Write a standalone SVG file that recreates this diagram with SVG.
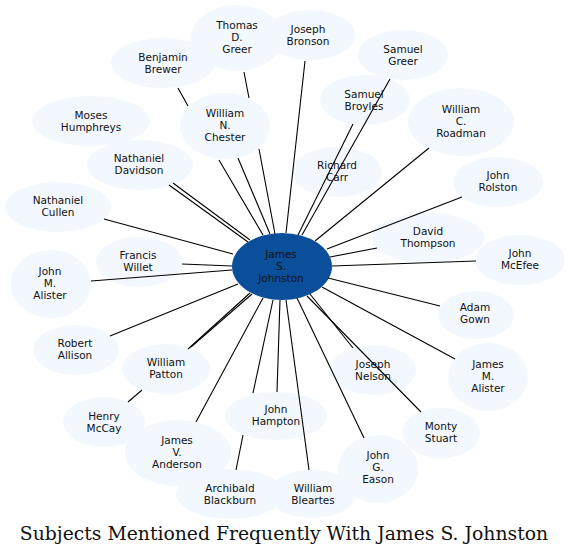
<svg xmlns="http://www.w3.org/2000/svg" width="570" height="556" viewBox="0 0 570 556">
<style>
.n ellipse{fill:#f3f8fe;stroke:none}
.c ellipse{fill:#0b4f9a;stroke:none}
text{font-family:"DejaVu Sans",Verdana,sans-serif;font-size:10.5px;fill:#111;text-anchor:middle}
.e path{stroke:#000;stroke-width:1.1;fill:none}
.title{font-family:"DejaVu Serif","Liberation Serif",serif;font-size:18.8px;fill:#111}
</style>
<rect width="570" height="556" fill="#fff"/>
<g id="nodes">
<g id="n_greer_td" class="n"><ellipse cx="237" cy="38" rx="46" ry="33"/><text x="237" y="28.5">Thomas</text><text x="237" y="40.5">D.</text><text x="237" y="52.5">Greer</text></g>
<g id="n_bronson" class="n"><ellipse cx="310" cy="35" rx="45" ry="25"/><text x="308" y="32.5">Joseph</text><text x="308" y="44.5">Bronson</text></g>
<g id="n_brewer" class="n"><ellipse cx="163" cy="63" rx="52" ry="25"/><text x="163" y="60.5">Benjamin</text><text x="163" y="72.5">Brewer</text></g>
<g id="n_sgreer" class="n"><ellipse cx="403" cy="55" rx="45" ry="25"/><text x="403" y="52.5">Samuel</text><text x="403" y="64.5">Greer</text></g>
<g id="n_broyles" class="n"><ellipse cx="365" cy="100" rx="45" ry="25"/><text x="364" y="97.5">Samuel</text><text x="364" y="109.5">Broyles</text></g>
<g id="n_humphreys" class="n"><ellipse cx="91" cy="121" rx="59" ry="25"/><text x="91" y="118.5">Moses</text><text x="91" y="130.5">Humphreys</text></g>
<g id="n_chester" class="n"><ellipse cx="225" cy="126" rx="45" ry="33"/><text x="225" y="116.5">William</text><text x="225" y="128.5">N.</text><text x="225" y="140.5">Chester</text></g>
<g id="n_roadman" class="n"><ellipse cx="461" cy="122" rx="53" ry="34"/><text x="461" y="112.5">William</text><text x="461" y="124.5">C.</text><text x="461" y="136.5">Roadman</text></g>
<g id="n_davidson" class="n"><ellipse cx="140" cy="165" rx="53" ry="25"/><text x="139" y="161.5">Nathaniel</text><text x="139" y="173.5">Davidson</text></g>
<g id="n_carr" class="n"><ellipse cx="337" cy="172" rx="45" ry="25"/><text x="337" y="168.5">Richard</text><text x="337" y="180.5">Carr</text></g>
<g id="n_rolston" class="n"><ellipse cx="498" cy="182" rx="45" ry="25"/><text x="498" y="178.5">John</text><text x="498" y="190.5">Rolston</text></g>
<g id="n_cullen" class="n"><ellipse cx="58" cy="207" rx="53" ry="25"/><text x="58" y="203.5">Nathaniel</text><text x="58" y="215.5">Cullen</text></g>
<g id="n_thompson" class="n"><ellipse cx="428" cy="238" rx="56" ry="25"/><text x="428" y="234.5">David</text><text x="428" y="246.5">Thompson</text></g>
<g id="n_willet" class="n"><ellipse cx="139" cy="262" rx="43" ry="25"/><text x="138" y="258.5">Francis</text><text x="138" y="270.5">Willet</text></g>
<g id="n_mcefee" class="n"><ellipse cx="520" cy="260" rx="45" ry="25"/><text x="520" y="256.5">John</text><text x="520" y="268.5">McEfee</text></g>
<g id="n_jm_alister" class="n"><ellipse cx="51" cy="284" rx="40" ry="34"/><text x="50" y="274.5">John</text><text x="50" y="286.5">M.</text><text x="50" y="298.5">Alister</text></g>
<g id="n_gown" class="n"><ellipse cx="476" cy="315" rx="38" ry="24"/><text x="475" y="310.5">Adam</text><text x="475" y="322.5">Gown</text></g>
<g id="n_allison" class="n"><ellipse cx="76" cy="350" rx="43" ry="25"/><text x="75" y="346.5">Robert</text><text x="75" y="358.5">Allison</text></g>
<g id="n_patton" class="n"><ellipse cx="166" cy="369" rx="44" ry="25"/><text x="166" y="365.5">William</text><text x="166" y="377.5">Patton</text></g>
<g id="n_nelson" class="n"><ellipse cx="373" cy="370" rx="43" ry="25"/><text x="373" y="367.5">Joseph</text><text x="373" y="379.5">Nelson</text></g>
<g id="n_jam_alister" class="n"><ellipse cx="488" cy="377" rx="40" ry="34"/><text x="488" y="367.5">James</text><text x="488" y="379.5">M.</text><text x="488" y="391.5">Alister</text></g>
<g id="n_mccay" class="n"><ellipse cx="104" cy="422" rx="41" ry="25"/><text x="104" y="419.5">Henry</text><text x="104" y="431.5">McCay</text></g>
<g id="n_hampton" class="n"><ellipse cx="276" cy="416" rx="51" ry="24"/><text x="276" y="412.5">John</text><text x="276" y="424.5">Hampton</text></g>
<g id="n_stuart" class="n"><ellipse cx="441" cy="433" rx="39" ry="25"/><text x="441" y="429.5">Monty</text><text x="441" y="441.5">Stuart</text></g>
<g id="n_anderson" class="n"><ellipse cx="178" cy="453" rx="53" ry="33"/><text x="177" y="443.5">James</text><text x="177" y="455.5">V.</text><text x="177" y="467.5">Anderson</text></g>
<g id="n_eason" class="n"><ellipse cx="378" cy="469" rx="40" ry="34"/><text x="378" y="458.5">John</text><text x="378" y="470.5">G.</text><text x="378" y="482.5">Eason</text></g>
<g id="n_blackburn" class="n"><ellipse cx="230" cy="494" rx="54" ry="25"/><text x="230" y="491.5">Archibald</text><text x="230" y="503.5">Blackburn</text></g>
<g id="n_bleartes" class="n"><ellipse cx="312" cy="494" rx="44" ry="24"/><text x="313" y="491.5">William</text><text x="313" y="503.5">Bleartes</text></g>
<g id="n_johnston" class="c"><ellipse cx="282" cy="266.5" rx="50" ry="33.5"/><text x="281" y="257.5">James</text><text x="281" y="269.5">S.</text><text x="281" y="281.5">Johnston</text></g>
</g>
<g id="edges" class="e">
<path d="M178,88 L188,106 M219,160 L263,235"/>
<path d="M244,72 L249,98 M259,149 L275,234"/>
<path d="M238,158 L270,234"/>
<path d="M305,61 L286,233"/>
<path d="M390,79 L302,235"/>
<path d="M353,124 L298,235"/>
<path d="M429,148 L315,241"/>
<path d="M462,197 L327,249"/>
<path d="M377,248 L330,257"/>
<path d="M476,261 L332,266"/>
<path d="M440,306 L328,278"/>
<path d="M455,359 L322,287"/>
<path d="M421,412 L307,296"/>
<path d="M353,348 L310,294"/>
<path d="M364,438 L297,298"/>
<path d="M309,470 L286,300"/>
<path d="M277,392 L280,300"/>
<path d="M236,470 L243,435 M253,393 L273,300"/>
<path d="M196,422 L263,298"/>
<path d="M128,402 L142,390 M188,349 L250,293"/>
<path d="M191,347 L252,294"/>
<path d="M110,336 L238,284"/>
<path d="M91,281 L232,270"/>
<path d="M182,264 L232,266"/>
<path d="M104,219 L233,254"/>
<path d="M169,185 L248,242"/>
<path d="M173,183 L250,240"/>
</g>
<text class="title" x="284" y="540">Subjects Mentioned Frequently With James S. Johnston</text>
</svg>
